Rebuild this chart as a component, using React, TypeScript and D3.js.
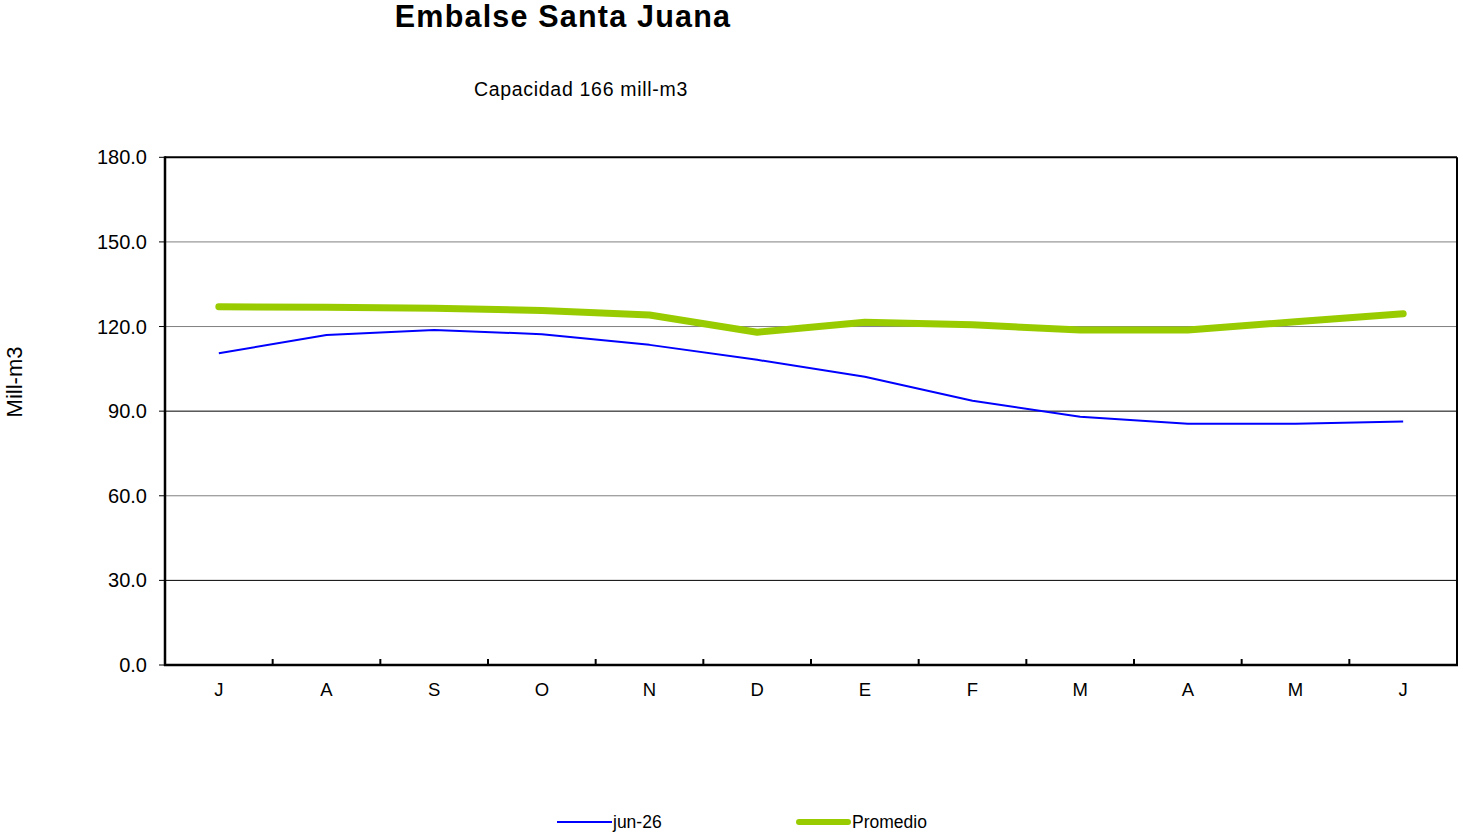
import React from "react";
import * as d3 from "d3";

const months = ["J", "A", "S", "O", "N", "D", "E", "F", "M", "A", "M", "J"];
const jun26 = [110.5, 117.0, 118.8, 117.3, 113.5, 108.2, 102.2, 93.7, 88.0, 85.5, 85.5, 86.3];
const promedio = [127.0, 126.8, 126.5, 125.7, 124.1, 118.0, 121.5, 120.6, 118.8, 118.8, 121.7, 124.5];
const yTicks = [0, 30, 60, 90, 120, 150, 180];
const gridColors: Record<number, string> = { 30: "#000", 60: "#808080", 90: "#000", 120: "#808080", 150: "#808080" };

const W = 1463;
const H = 836;
const left = 165;
const right = 1457;
const top = 157.3;
const bottom = 665;
const FONT = "'Liberation Sans', Arial, sans-serif";

export default function App() {
  const x = d3.scaleBand<number>().domain(d3.range(months.length)).range([left, right]).padding(0);
  const y = d3.scaleLinear().domain([0, 180]).range([bottom, top]);
  const cx = (i: number) => (x(i) as number) + x.bandwidth() / 2;
  const line = d3
    .line<number>()
    .x((_, i) => cx(i))
    .y((v) => y(v));

  return (
    <svg
      width={W}
      height={H}
      style={{ position: "absolute", left: 0, top: 0, background: "#fff" }}
      fontFamily={FONT}
    >
      <rect x={0} y={0} width={W} height={H} fill="#fff" />
      <text x={563} y={27} textAnchor="middle" fontSize={30.5} fontWeight="bold" letterSpacing={1.2} fill="#000">
        Embalse Santa Juana
      </text>
      <text x={581} y={96} textAnchor="middle" fontSize={19.5} letterSpacing={0.7} fill="#000">
        Capacidad 166 mill-m3
      </text>
      <text
        transform={`translate(22,${382}) rotate(-90)`}
        textAnchor="middle"
        fontSize={22}
        fill="#000"
      >
        Mill-m3
      </text>

      {yTicks
        .filter((t) => t > 0 && t < 180)
        .map((t) => (
          <line key={t} x1={left} x2={right} y1={y(t)} y2={y(t)} stroke={gridColors[t]} strokeWidth={1} />
        ))}

      {/* plot frame */}
      <line x1={left} x2={right} y1={top} y2={top} stroke="#000" strokeWidth={2} />
      <line x1={right} x2={right} y1={top} y2={bottom} stroke="#000" strokeWidth={2} />
      <line x1={left} x2={left} y1={top - 1} y2={bottom + 1} stroke="#000" strokeWidth={2.5} />
      <line x1={left - 1} x2={right + 1} y1={bottom} y2={bottom} stroke="#000" strokeWidth={2.5} />

      {yTicks.map((t) => (
        <g key={t}>
          <line x1={left - 6} x2={left} y1={y(t)} y2={y(t)} stroke="#000" strokeWidth={1} />
          <text x={147} y={y(t) + 7} textAnchor="end" fontSize={20} fill="#000">
            {t.toFixed(1)}
          </text>
        </g>
      ))}

      {d3.range(1, months.length).map((i) => (
        <line
          key={i}
          x1={x(i) as number}
          x2={x(i) as number}
          y1={bottom}
          y2={bottom - 6}
          stroke="#000"
          strokeWidth={2}
        />
      ))}
      {months.map((m, i) => (
        <text key={i} x={cx(i)} y={696} textAnchor="middle" fontSize={18.5} fill="#000">
          {m}
        </text>
      ))}

      <path d={line(promedio) || ""} fill="none" stroke="#99cc00" strokeWidth={7} strokeLinecap="round" strokeLinejoin="round" />
      <path d={line(jun26) || ""} fill="none" stroke="#0000ff" strokeWidth={2} strokeLinejoin="round" />

      {/* legend */}
      <line x1={557} x2={612} y1={822} y2={822} stroke="#0000ff" strokeWidth={2} />
      <text x={613} y={828} fontSize={17.5} fill="#000">
        jun-26
      </text>
      <line x1={799} x2={848} y1={822} y2={822} stroke="#99cc00" strokeWidth={6} strokeLinecap="round" />
      <text x={852} y={828} fontSize={17.5} fill="#000">
        Promedio
      </text>
    </svg>
  );
}
